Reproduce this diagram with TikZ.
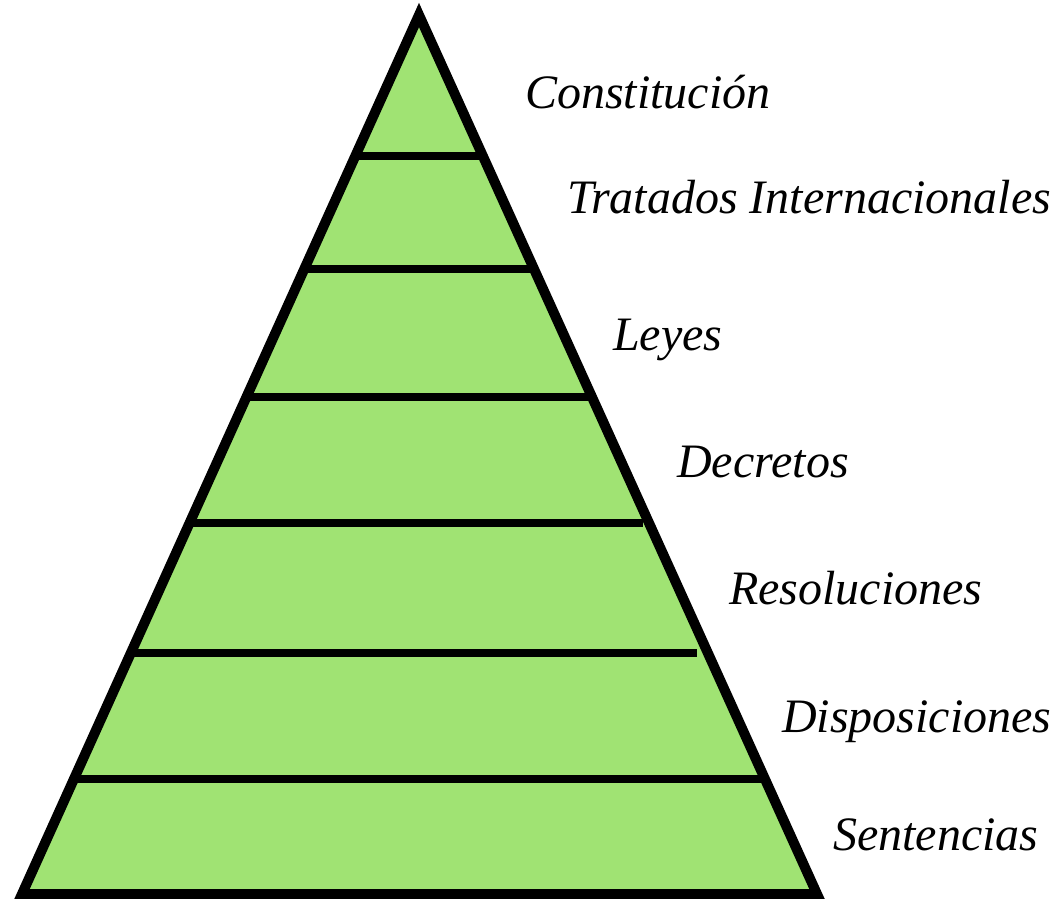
\documentclass[tikz,border=0pt]{standalone}
\usepackage{fontspec}
\setmainfont{Liberation Serif}
\usetikzlibrary{calc}
\definecolor{pyrgreen}{RGB}{160,227,115}
\begin{document}
\begin{tikzpicture}[x=1pt,y=-1pt,
  tri/.style={draw=black,line width=10pt,fill=pyrgreen,line join=miter},
  tier/.style={draw=black,line width=8.5pt,line cap=butt},
  lbl/.style={anchor=base west,inner sep=0pt,font=\itshape\fontsize{48}{52}\selectfont}]
\useasboundingbox (0,0) rectangle (1061,898);
\coordinate (A) at (419,15);
\coordinate (BL) at (22,894);
\coordinate (BR) at (817,894);
\draw[tri] (A) -- (BL) -- (BR) -- cycle;
% tier lines
\coordinate (l1) at (356,156); \coordinate (r1) at (482,156);
\coordinate (l2) at (305,269); \coordinate (r2) at (533,269);
\coordinate (l3) at (247,397); \coordinate (r3) at (591,397);
\coordinate (l4) at (190,523); \coordinate (r4) at (643,523);
\coordinate (l5) at (131,653); \coordinate (r5) at (697,653);
\coordinate (l6) at (74,779);  \coordinate (r6) at (764,779);
\draw[tier] (l1) -- (r1);
\draw[tier] (l2) -- (r2);
\draw[tier] (l3) -- (r3);
\draw[tier] (l4) -- (r4);
\draw[tier] (l5) -- (r5);
\draw[tier] (l6) -- (r6);
% labels
\node[lbl] (t1) at (525,108) {Constitución};
\node[lbl] (t2) at (567,213) {Tratados Internacionales};
\node[lbl] (t3) at (613,350) {Leyes};
\node[lbl] (t4) at (677,477) {Decretos};
\node[lbl] (t5) at (729,604) {Resoluciones};
\node[lbl] (t6) at (782,732) {Disposiciones};
\node[lbl] (t7) at (833,850) {Sentencias};
\end{tikzpicture}
\end{document}
